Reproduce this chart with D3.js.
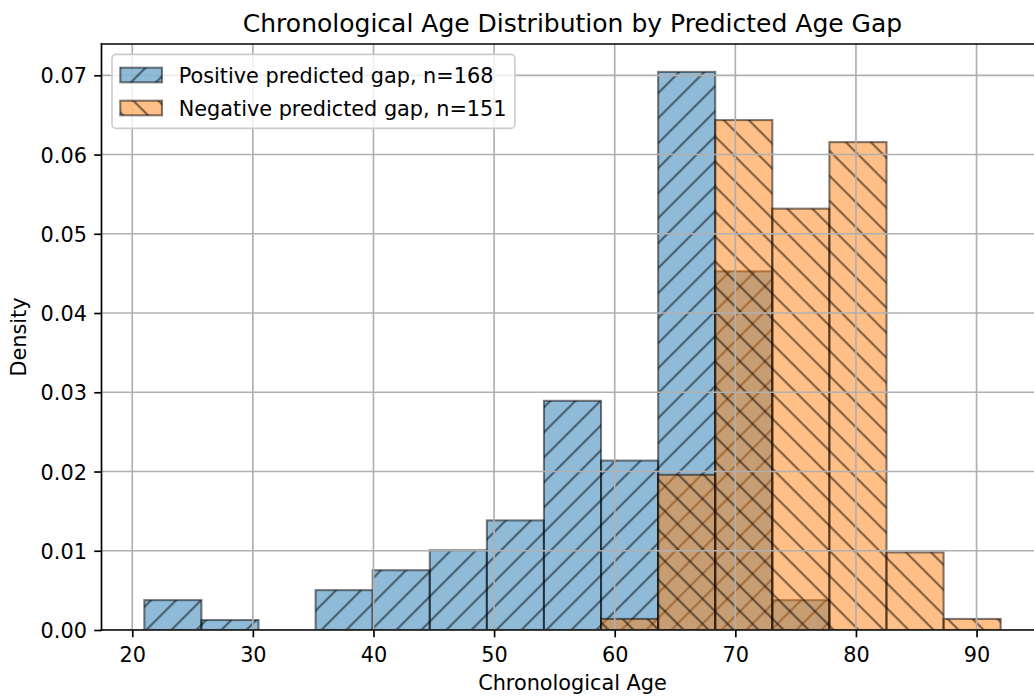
<!DOCTYPE html>
<html>
<head>
<meta charset="utf-8">
<script src="https://cdn.jsdelivr.net/npm/d3@7/dist/d3.min.js"></script>
<style>
  html, body { margin: 0; padding: 0; background: #fff; }
  svg { display: block; font-family: "DejaVu Sans", sans-serif; }
</style>
</head>
<body>
<svg id="chart" width="1034" height="700"></svg>
<script>
// Shared histogram bin edges (years of chronological age)
const binEdges = [21, 25.733, 30.467, 35.2, 39.933, 44.667, 49.4, 54.133,
                  58.867, 63.6, 68.333, 73.067, 77.8, 82.533, 87.267, 92];

// Subjects per bin for each predicted-gap group
const positiveCounts = [3, 1, 0, 4, 6, 8, 11, 23, 17, 56, 36, 3, 0, 0, 0];
const negativeCounts = [0, 0, 0, 0, 0, 0, 0, 0, 1, 14, 46, 38, 44, 7, 1];

const seriesNames = ["Positive predicted gap", "Negative predicted gap"];
const seriesColors = ["#1f77b4", "#ff7f0e"];
const seriesHatch = ["fwd", "back"];

const xTicks = [20, 30, 40, 50, 60, 70, 80, 90];
const yTicks = [0, 0.01, 0.02, 0.03, 0.04, 0.05, 0.06, 0.07];

const titleText = "Chronological Age Distribution by Predicted Age Gap";
const xLabelText = "Chronological Age";
const yLabelText = "Density";

// ---- layout ----
const plot = { left: 101.5, right: 1043.5, top: 44, bottom: 630 };
const FONT = 20.8;
const THIN = 1.67, EDGE = 2.08;

const svg = d3.select("#chart");

// Convert counts to densities (area of each histogram sums to 1)
function toBins(counts) {
  const n = d3.sum(counts);
  return {
    n,
    bins: counts.map((c, i) => ({
      x0: binEdges[i],
      x1: binEdges[i + 1],
      count: c,
      density: c / (n * (binEdges[i + 1] - binEdges[i]))
    }))
  };
}
const groups = [toBins(positiveCounts), toBins(negativeCounts)];

const xMin = binEdges[0], xMax = binEdges[binEdges.length - 1];
const xPad = (xMax - xMin) * 0.05;
const x = d3.scaleLinear().domain([xMin - xPad, xMax + xPad]).range([plot.left, plot.right]);
const yTop = d3.max(groups, g => d3.max(g.bins, b => b.density)) * 1.05;
const y = d3.scaleLinear().domain([0, yTop]).range([plot.bottom, plot.top]);

// ---- hatch patterns ----
const defs = svg.append("defs");
const H = 25;
function hatchPattern(id, offset, segs) {
  const p = defs.append("pattern").attr("id", id)
    .attr("patternUnits", "userSpaceOnUse").attr("x", offset).attr("y", 0)
    .attr("width", H).attr("height", H);
  segs.forEach(s => p.append("line")
    .attr("x1", s[0]).attr("y1", s[1]).attr("x2", s[2]).attr("y2", s[3])
    .attr("stroke", "rgba(0,0,0,0.5)").attr("stroke-width", EDGE));
}
hatchPattern("hatch-fwd", 1.3,
  [[0, H, H, 0], [-H / 2, H / 2, H / 2, -H / 2], [H / 2, H * 1.5, H * 1.5, H / 2]]);
hatchPattern("hatch-back", 3.7,
  [[0, 0, H, H], [-H / 2, H / 2, H / 2, H * 1.5], [H / 2, -H / 2, H * 1.5, H / 2]]);

const clip = defs.append("clipPath").attr("id", "plot-clip");
clip.append("rect").attr("x", plot.left).attr("y", plot.top)
  .attr("width", plot.right - plot.left).attr("height", plot.bottom - plot.top);

// ---- bars ----
const barsLayer = svg.append("g").attr("clip-path", "url(#plot-clip)");
groups.forEach((g, gi) => {
  const sel = barsLayer.append("g").selectAll("g")
    .data(g.bins.filter(b => b.count > 0)).join("g");
  const geom = s => s
    .attr("x", d => x(d.x0)).attr("width", d => x(d.x1) - x(d.x0))
    .attr("y", d => y(d.density)).attr("height", d => y(0) - y(d.density));
  sel.append("rect").call(geom)
    .attr("fill", seriesColors[gi]).attr("fill-opacity", 0.5);
  sel.append("rect").call(geom)
    .attr("fill", `url(#hatch-${seriesHatch[gi]})`);
  sel.append("rect").call(geom)
    .attr("fill", "none").attr("stroke", "rgba(0,0,0,0.5)").attr("stroke-width", EDGE);
});

// ---- grid (drawn above bars) ----
const grid = svg.append("g").attr("clip-path", "url(#plot-clip)");
grid.selectAll(".gx").data(xTicks).join("line")
  .attr("x1", d => x(d)).attr("x2", d => x(d))
  .attr("y1", plot.top).attr("y2", plot.bottom)
  .attr("stroke", "#b0b0b0").attr("stroke-width", THIN);
grid.selectAll(".gy").data(yTicks).join("line")
  .attr("x1", plot.left).attr("x2", plot.right)
  .attr("y1", d => y(d)).attr("y2", d => y(d))
  .attr("stroke", "#b0b0b0").attr("stroke-width", THIN);

// ---- axes ----
const xAxis = svg.append("g").attr("transform", `translate(0,${plot.bottom})`)
  .call(d3.axisBottom(x).tickValues(xTicks).tickFormat(d3.format("d"))
    .tickSize(7.3).tickPadding(8).tickSizeOuter(0));
const yAxis = svg.append("g").attr("transform", `translate(${plot.left},0)`)
  .call(d3.axisLeft(y).tickValues(yTicks).tickFormat(d3.format(".2f"))
    .tickSize(7.3).tickPadding(7.3).tickSizeOuter(0));
[xAxis, yAxis].forEach(a => {
  a.select(".domain").remove();
  a.selectAll(".tick line").attr("stroke", "#000").attr("stroke-width", THIN);
  a.selectAll(".tick text").attr("fill", "#000")
    .style("font-size", FONT + "px").style("font-family", "DejaVu Sans");
});
xAxis.selectAll(".tick text").attr("dy", null).attr("y", 32);
yAxis.selectAll(".tick text").attr("dy", "0.36em");

// spines: left, bottom, top (right edge falls outside the canvas)
const spines = svg.append("g").attr("stroke", "#000").attr("stroke-width", THIN)
  .attr("stroke-linecap", "square");
spines.append("line").attr("x1", plot.left).attr("x2", plot.left).attr("y1", plot.top).attr("y2", plot.bottom);
spines.append("line").attr("x1", plot.left).attr("x2", plot.right).attr("y1", plot.bottom).attr("y2", plot.bottom);
spines.append("line").attr("x1", plot.left).attr("x2", plot.right).attr("y1", plot.top).attr("y2", plot.top);
spines.append("line").attr("x1", plot.right).attr("x2", plot.right).attr("y1", plot.top).attr("y2", plot.bottom);

// ---- labels ----
svg.append("text").attr("x", (plot.left + plot.right) / 2).attr("y", 31.5)
  .attr("text-anchor", "middle").style("font-size", "25px").attr("fill", "#000")
  .text(titleText);
svg.append("text").attr("x", (plot.left + plot.right) / 2).attr("y", 690)
  .attr("text-anchor", "middle").style("font-size", FONT + "px").attr("fill", "#000")
  .text(xLabelText);
svg.append("text")
  .attr("transform", `translate(26,${(plot.top + plot.bottom) / 2}) rotate(-90)`)
  .attr("text-anchor", "middle").style("font-size", FONT + "px").attr("fill", "#000")
  .text(yLabelText);

// ---- legend ----
const legend = svg.append("g").attr("transform", "translate(112,54.4)");
const rowY = [20.6, 53.6];
const legendItems = groups.map((g, i) => ({
  label: `${seriesNames[i]}, n=${g.n}`, color: seriesColors[i], hatch: seriesHatch[i]
}));
const frame = legend.append("rect").attr("x", 0).attr("y", 0)
  .attr("rx", 4).attr("ry", 4)
  .attr("fill", "rgba(255,255,255,0.8)").attr("stroke", "#cccccc").attr("stroke-width", 1.6);
const rows = legend.selectAll(".row").data(legendItems).join("g")
  .attr("transform", (d, i) => `translate(0,${rowY[i]})`);
const handle = s => s.attr("x", 8.3).attr("y", -7.3).attr("width", 41.7).attr("height", 14.6);
rows.append("rect").call(handle).attr("fill", d => d.color).attr("fill-opacity", 0.5);
rows.append("rect").call(handle).attr("fill", d => `url(#hatch-${d.hatch})`);
rows.append("rect").call(handle)
  .attr("fill", "none").attr("stroke", "rgba(0,0,0,0.5)").attr("stroke-width", EDGE);
rows.append("text").attr("x", 66.7).attr("y", 7.5).style("font-size", FONT + "px").attr("fill", "#000")
  .text(d => d.label);
const maxW = d3.max(rows.selectAll("text").nodes(), n => n.getComputedTextLength());
frame.attr("width", 66.7 + maxW + 8.3).attr("height", 74);
</script>
</body>
</html>
